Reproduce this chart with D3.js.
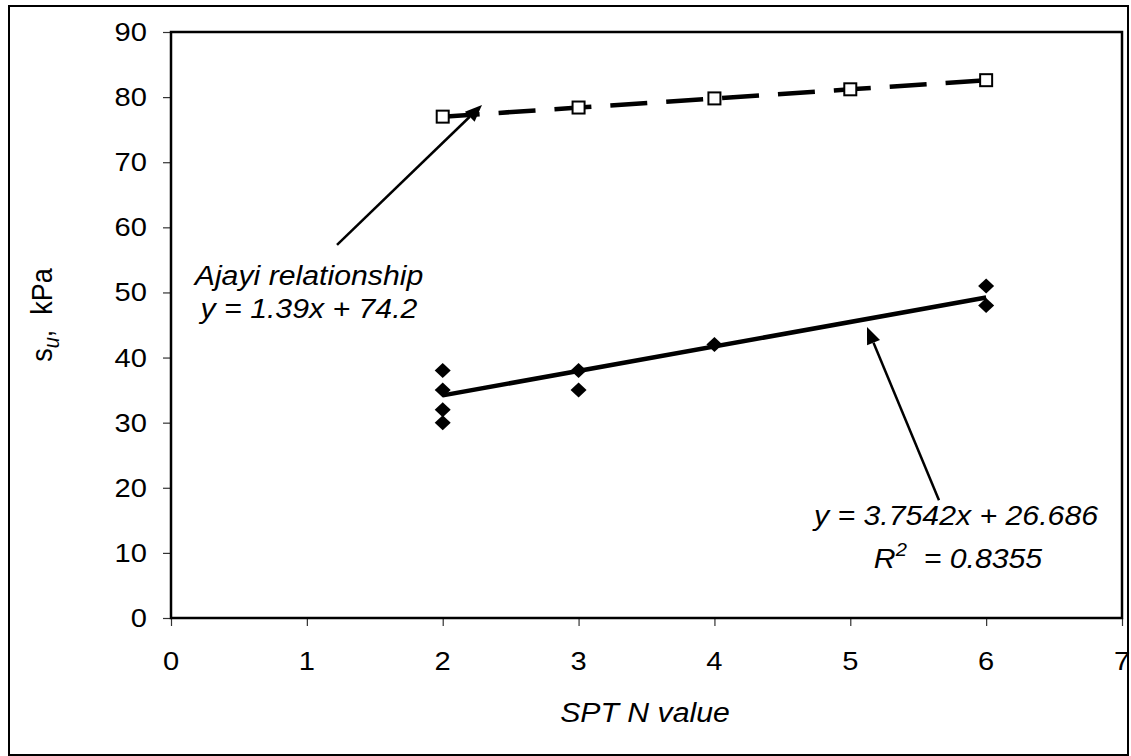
<!DOCTYPE html>
<html>
<head>
<meta charset="utf-8">
<script src="https://cdn.jsdelivr.net/npm/d3@7"></script>
<style>
  body { margin: 0; background: #fff; }
  svg text { font-family: "Liberation Sans", Arial, sans-serif; fill: #000; }
</style>
</head>
<body>
<svg id="chart" width="1131" height="756"></svg>
<script>
// SPT N value vs undrained shear strength
const xTicks = [0, 1, 2, 3, 4, 5, 6, 7];
const yTicks = [0, 10, 20, 30, 40, 50, 60, 70, 80, 90];

// measured points (N, su)
const measuredN  = [2, 2, 2, 2, 3, 3, 4, 6, 6];
const measuredSu = [38, 35, 32, 30, 38, 35, 42, 51, 48];

// Ajayi relationship points
const ajayiN  = [2, 3, 4, 5, 6];
const ajayiSu = [77.0, 78.4, 79.8, 81.2, 82.6];

// linear fit through the measured points
const fitSlope = 3.7542;
const fitIntercept = 26.686;
const fitRange = [2, 6];

const svg = d3.select("#chart");
const plot = { left: 171, right: 1122, top: 32, bottom: 618 };
const SX = 1.12; // horizontal text stretch

const x = d3.scaleLinear().domain([0, 7]).range([plot.left, plot.right]);
const y = d3.scaleLinear().domain([0, 90]).range([plot.bottom, plot.top]);

// outer frame
svg.append("rect").attr("x", 9).attr("y", 6).attr("width", 1119).attr("height", 749)
  .attr("fill", "none").attr("stroke", "#000").attr("stroke-width", 2);

// axes (ticks outside, labels drawn separately)
const gx = svg.append("g").attr("transform", `translate(0,${plot.bottom})`)
  .call(d3.axisBottom(x).tickValues(xTicks).tickSize(8).tickFormat(""));
const gy = svg.append("g").attr("transform", `translate(${plot.left},0)`)
  .call(d3.axisLeft(y).tickValues(yTicks).tickSize(8).tickFormat(""));
[gx, gy].forEach(g => {
  g.select(".domain").remove();
  g.selectAll(".tick line").attr("stroke", "#333").attr("stroke-width", 1.2);
});

// plot frame
svg.append("rect").attr("x", plot.left).attr("y", plot.top)
  .attr("width", plot.right - plot.left).attr("height", plot.bottom - plot.top)
  .attr("fill", "none").attr("stroke", "#000").attr("stroke-width", 2.5);

function stretchedText(g, px, py, size, anchor, italic) {
  return g.append("text")
    .attr("transform", `translate(${px},${py}) scale(${SX},1)`)
    .attr("text-anchor", anchor)
    .attr("font-size", size)
    .attr("font-style", italic ? "italic" : "normal");
}

// tick labels
const labels = svg.append("g");
xTicks.forEach(v => stretchedText(labels, x(v), 670, 26, "middle", false).text(v));
yTicks.forEach(v => stretchedText(labels, 147, y(v) + 9, 26, "end", false).text(v));

// axis titles
stretchedText(labels, 645, 722, 27, "middle", true).text("SPT N value");
const yt = labels.append("text")
  .attr("transform", `translate(52,315) scale(${SX},1) rotate(-90)`)
  .attr("text-anchor", "middle").attr("font-size", 27);
yt.append("tspan").text("s");
yt.append("tspan").attr("font-style", "italic").attr("font-size", 20).attr("dy", 6).text("u");
yt.append("tspan").attr("dy", -6).text(",\u00a0\u00a0kPa");

// Ajayi relationship: dashed line with open squares
const line = d3.line().x(d => x(d[0])).y(d => y(d[1]));
const ajayi = ajayiN.map((n, i) => [n, ajayiSu[i]]);
svg.append("path").datum(ajayi).attr("d", line)
  .attr("fill", "none").attr("stroke", "#000").attr("stroke-width", 4.5)
  .attr("stroke-dasharray", "37,19");
svg.append("g").selectAll("rect").data(ajayi).join("rect")
  .attr("x", d => x(d[0]) - 6).attr("y", d => y(d[1]) - 6)
  .attr("width", 12).attr("height", 12)
  .attr("fill", "#fff").attr("stroke", "#000").attr("stroke-width", 2);

// fitted trend line
svg.append("path")
  .datum(fitRange.map(n => [n, fitSlope * n + fitIntercept]))
  .attr("d", line).attr("fill", "none").attr("stroke", "#000").attr("stroke-width", 4.5);

// measured points: filled diamonds
const measured = measuredN.map((n, i) => [n, measuredSu[i]]);
svg.append("g").selectAll("path").data(measured).join("path")
  .attr("d", d => {
    const cx = x(d[0]), cy = y(d[1]);
    return `M${cx},${cy - 7.5}L${cx + 8},${cy}L${cx},${cy + 7.5}L${cx - 8},${cy}Z`;
  })
  .attr("fill", "#000");

// annotation arrows (data coordinates)
function arrow(from, to) {
  const x0 = x(from[0]), y0 = y(from[1]), x1 = x(to[0]), y1 = y(to[1]);
  const ang = Math.atan2(y1 - y0, x1 - x0);
  const len = 17, half = 7;
  const bx = x1 - len * Math.cos(ang), by = y1 - len * Math.sin(ang);
  svg.append("line").attr("x1", x0).attr("y1", y0).attr("x2", bx).attr("y2", by)
    .attr("stroke", "#000").attr("stroke-width", 2.5);
  const px = -Math.sin(ang) * half, py = Math.cos(ang) * half;
  svg.append("path")
    .attr("d", `M${x1},${y1}L${bx + px},${by + py}L${bx - px},${by - py}Z`)
    .attr("fill", "#000");
}
arrow([1.222, 57.3], [2.289, 78.8]);
arrow([5.653, 18.1], [5.123, 44.7]);

// annotation texts
const notes = svg.append("g");
stretchedText(notes, 309, 285, 27, "middle", true).text("Ajayi relationship");
stretchedText(notes, 309, 318, 27, "middle", true).text("y = 1.39x + 74.2");
stretchedText(notes, 956, 525, 27, "middle", true)
  .text(`y = ${fitSlope}x + ${fitIntercept}`);
const r2 = stretchedText(notes, 958, 568, 27, "middle", true);
r2.append("tspan").text("R");
r2.append("tspan").attr("font-size", 18).attr("dy", -12).text("2");
r2.append("tspan").attr("dy", 12).text("\u00a0\u00a0= 0.8355");
</script>
</body>
</html>
